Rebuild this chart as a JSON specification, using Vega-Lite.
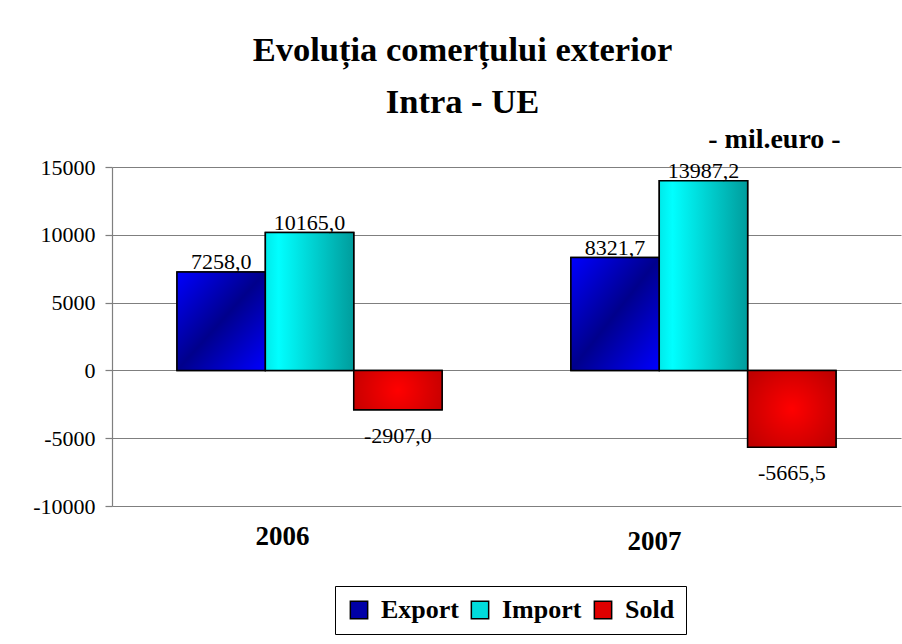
{
  "$schema": "https://vega.github.io/schema/vega-lite/v6.json",
  "width": 789,
  "height": 339,
  "autosize": "none",
  "padding": {"left": 112, "top": 167, "right": 1, "bottom": 138},
  "background": "white",
  "title": {
    "text": ["Evoluția comerțului exterior", "Intra - UE"],
    "font": "'Liberation Serif', 'Times New Roman', serif",
    "fontSize": 34.5,
    "fontWeight": "bold",
    "color": "black",
    "anchor": "middle",
    "dx": -44,
    "lineHeight": 52,
    "offset": 6
  },
  "data": {
    "values": [
      {"year": "2006", "series": "Export", "value": 7258.0},
      {"year": "2006", "series": "Import", "value": 10165.0},
      {"year": "2006", "series": "Sold", "value": -2907.0},
      {"year": "2007", "series": "Export", "value": 8321.7},
      {"year": "2007", "series": "Import", "value": 13987.2},
      {"year": "2007", "series": "Sold", "value": -5665.5}
    ]
  },
  "transform": [
    {"calculate": "replace(replace(format(datum.value, '.1f'), '.', ','), '\u2212', '-')", "as": "label"}
  ],
  "encoding": {
    "x": {
      "field": "year",
      "type": "nominal",
      "scale": {"paddingInner": 0.327, "paddingOuter": 0.165},
      "axis": {
        "title": null,
        "domain": false,
        "ticks": false,
        "grid": false,
        "labelAngle": 0,
        "labelFont": "'Liberation Serif', 'Times New Roman', serif",
        "labelFontSize": 27,
        "labelFontWeight": "bold",
        "labelColor": "black",
        "labelBaseline": "top",
        "labelOffset": {"condition": {"test": "datum.value == '2007'", "value": -49}, "value": -27},
        "labelPadding": {"condition": {"test": "datum.value == '2007'", "value": 22}, "value": 17}
      }
    },
    "xOffset": {
      "field": "series",
      "type": "nominal",
      "scale": {"domain": ["Export", "Import", "Sold"], "paddingInner": 0, "paddingOuter": 0}
    },
    "y": {
      "field": "value",
      "type": "quantitative",
      "scale": {"domain": [-10000, 15000], "nice": false, "zero": false},
      "axis": {
        "title": null,
        "values": [-10000, -5000, 0, 5000, 10000, 15000],
        "labelExpr": "'' + datum.value",
        "labelFont": "'Liberation Serif', 'Times New Roman', serif",
        "labelFontSize": 22,
        "labelColor": "black",
        "labelPadding": 10,
        "tickSize": 7,
        "tickColor": "#7f7f7f",
        "tickWidth": 1.2,
        "domainColor": "#7f7f7f",
        "domainWidth": 1.2,
        "grid": true,
        "gridColor": "#7f7f7f",
        "gridWidth": 1.2
      }
    }
  },
  "layer": [
    {
      "mark": {"type": "bar", "stroke": "black", "strokeWidth": 1.5},
      "encoding": {
        "color": {
          "field": "series",
          "type": "nominal",
          "scale": {"domain": ["Export", "Import", "Sold"], "range": ["#0000a8", "#00dcdc", "#e00000"]},
          "legend": {
            "title": null,
            "orient": "none",
            "direction": "horizontal",
            "legendX": 223,
            "legendY": 419,
            "padding": 11,
            "strokeColor": "black",
            "fillColor": "white",
            "labelFont": "'Liberation Serif', 'Times New Roman', serif",
            "labelFontSize": 26,
            "labelFontWeight": "bold",
            "labelColor": "black",
            "labelOffset": 9,
            "symbolType": "square",
            "symbolSize": 300,
            "symbolStrokeColor": "black",
            "symbolStrokeWidth": 1.5,
            "columnPadding": 8
          }
        }
      }
    },
    {
      "mark": {"type": "bar", "stroke": "black", "strokeWidth": 1.5},
      "encoding": {
        "fill": {
          "condition": [
            {
              "test": "datum.series == 'Export'",
              "value": {
                "gradient": "linear", "x1": 0, "y1": 0, "x2": 1, "y2": 1,
                "stops": [
                  {"offset": 0, "color": "#0000ff"},
                  {"offset": 0.5, "color": "#00008c"},
                  {"offset": 1, "color": "#0000ff"}
                ]
              }
            },
            {
              "test": "datum.series == 'Import'",
              "value": {
                "gradient": "linear", "x1": 0, "y1": 0, "x2": 1, "y2": 0,
                "stops": [
                  {"offset": 0, "color": "#00eaea"},
                  {"offset": 0.15, "color": "#00ffff"},
                  {"offset": 1, "color": "#009c9c"}
                ]
              }
            }
          ],
          "value": {
            "gradient": "radial", "x1": 0.5, "y1": 0.5, "r1": 0, "x2": 0.5, "y2": 0.5, "r2": 0.6,
            "stops": [
              {"offset": 0, "color": "#ff0000"},
              {"offset": 1, "color": "#c00000"}
            ]
          }
        }
      }
    },
    {
      "transform": [{"filter": "datum.value >= 0"}],
      "mark": {"type": "text", "font": "'Liberation Serif', 'Times New Roman', serif", "fontSize": 22, "color": "black", "baseline": "alphabetic", "dy": -3},
      "encoding": {"text": {"field": "label"}}
    },
    {
      "transform": [{"filter": "datum.value < 0"}],
      "mark": {"type": "text", "font": "'Liberation Serif', 'Times New Roman', serif", "fontSize": 22, "color": "black", "baseline": "alphabetic", "dy": 33},
      "encoding": {"text": {"field": "label"}}
    },
    {
      "transform": [{"filter": "datum.year == '2007' && datum.series == 'Import'"}],
      "mark": {"type": "text", "font": "'Liberation Serif', 'Times New Roman', serif", "fontSize": 28, "fontWeight": "bold", "color": "black", "baseline": "alphabetic", "dx": 71, "dy": -19},
      "encoding": {
        "y": {"datum": 15000, "type": "quantitative"},
        "text": {"value": "- mil.euro -"}
      }
    }
  ],
  "config": {
    "view": {"stroke": null}
  }
}
